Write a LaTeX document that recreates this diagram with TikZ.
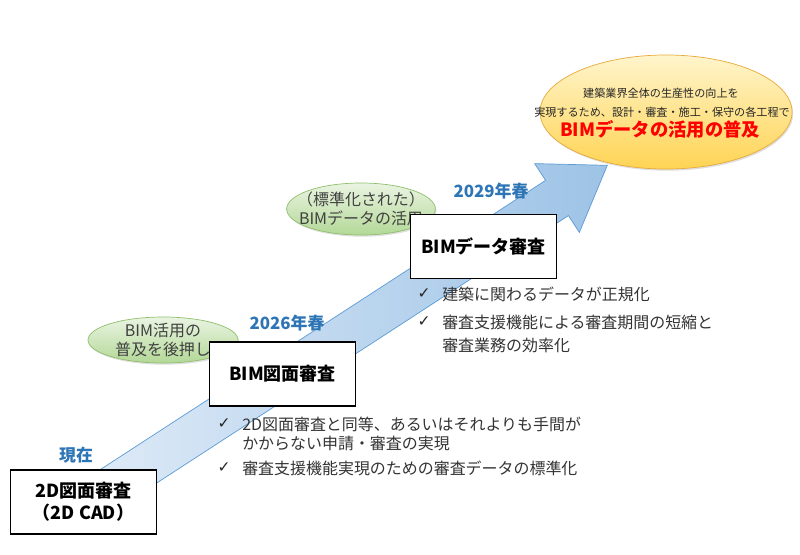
\documentclass[tikz,border=0pt]{standalone}
\usepackage{fontspec}
\setmainfont{Noto Sans CJK JP}
\newfontfamily\symfont{DejaVu Sans}
\usetikzlibrary{shapes.geometric,shadows}
\definecolor{yearblue}{HTML}{2E75B6}
\definecolor{arrowline}{HTML}{5B9BD5}
\definecolor{arrowdark}{HTML}{9DC3E6}
\definecolor{arrowpale}{HTML}{DEEAF7}
\definecolor{ellgreen}{HTML}{8FBF6C}
\definecolor{greentop}{HTML}{EAF4E2}
\definecolor{greenbot}{HTML}{B3D897}
\definecolor{goalline}{HTML}{E8A93A}
\definecolor{goaltop}{HTML}{FFF5CC}
\definecolor{goalbot}{HTML}{FFD454}
\tikzstyle{stagebox}=[draw=black,line width=1.3pt,fill=white,minimum width=3.65cm,minimum height=1.6cm,inner sep=0pt,align=center,font=\fontsize{12.8}{15.6}\selectfont\bfseries]
\tikzstyle{yearlabel}=[text=yearblue,inner sep=0pt,font=\fontsize{12}{14}\selectfont\bfseries]
\tikzstyle{policy}=[ellipse,draw=ellgreen,line width=0.5pt,top color=greentop,bottom color=greenbot,minimum width=3.75cm,minimum height=1.15cm,inner xsep=-8pt,inner ysep=-4pt,align=center,text=black!75,font=\fontsize{11.35}{13.5}\selectfont,drop shadow={opacity=0.25,shadow xshift=0.8pt,shadow yshift=-1.2pt}]
\tikzstyle{goal}=[ellipse,draw=goalline,line width=0.5pt,top color=goaltop,bottom color=goalbot,minimum width=6.3cm,minimum height=2.85cm,drop shadow={opacity=0.25,shadow xshift=0.8pt,shadow yshift=-1.2pt}]
\tikzstyle{goaltext}=[inner sep=0pt,text=black!85,font=\fontsize{7.9}{9}\selectfont]
\tikzstyle{itemtext}=[anchor=west,inner sep=0pt,text=black!80,font=\fontsize{11.35}{13}\selectfont]
\tikzstyle{checkmark}=[inner sep=0pt,text=black!85,font=\symfont\fontsize{11}{11}\selectfont]
\newcommand{\checkitem}[4]{
  \node[checkmark] (#1c) at (#2-18,#3) {✓};
  \node[itemtext] (#1) at (#2,#3) {#4};
}

\begin{document}
\begin{tikzpicture}[x=0.025cm,y=-0.025cm]
\useasboundingbox (0,0) rectangle (800,554);
% the big arrow
\begin{scope}[shift={(557,198)},rotate=33]
\shade[left color=arrowpale,right color=arrowdark,draw=arrowline,line width=0.5pt]
  (-540,21) -- (0,21) -- (0,41) -- (60,0) -- (0,-41) -- (0,-21) -- (-540,-21) -- cycle;
\end{scope}
% goal
\node[goal] (goal) at (666,112) {};
\node[goaltext] (goala) at (661,93) {建築業界全体の生産性の向上を};
\node[goaltext] (goalb) at (662,112) {実現するため、設計・審査・施工・保守の各工程で};
\node[goaltext,text=red,font=\fontsize{13}{13}\selectfont\bfseries] (goalc) at (660,129) {BIMデータの活用の普及};
% policies
\node[policy] (push) at (163,340) {BIM活用の\\普及を後押し};
\node[policy,minimum width=3.7cm,minimum height=1.3cm] (std) at (361,209) {（標準化された）\\BIMデータの活用};
% years
\node[yearlabel] (now) at (76,455) {現在};
\node[yearlabel] (y2026) at (287,323) {2026年春};
\node[yearlabel] (y2029) at (491,191) {2029年春};
% stages
\node[stagebox] (cad) at (83.5,502) {2D図面審査\\（2D CAD）};
\node[stagebox] (bimdraw) at (282.5,374) {BIM図面審査};
\node[stagebox] (bimdata) at (483.5,246.5) {BIMデータ審査};
% items
\checkitem{ia}{242}{424}{2D図面審査と同等、あるいはそれよりも手間が}
\node[itemtext] (iab) at (242,443) {かからない申請・審査の実現};
\checkitem{ib}{242}{468}{審査支援機能実現のための審査データの標準化}
\checkitem{ic}{442}{294}{建築に関わるデータが正規化}
\checkitem{id}{442}{322}{審査支援機能による審査期間の短縮と}
\node[itemtext] (idb) at (442,345) {審査業務の効率化};
\end{tikzpicture}
\end{document}
